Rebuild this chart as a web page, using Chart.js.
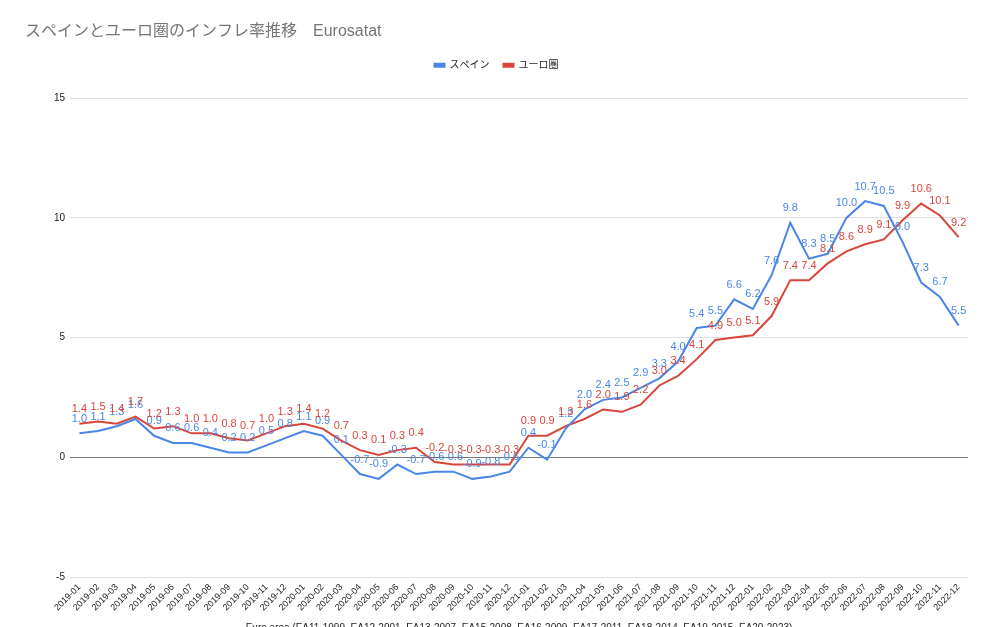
<!DOCTYPE html>
<html>
<head>
<meta charset="utf-8">
<script src="https://cdn.jsdelivr.net/npm/chart.js@4"></script>
<style>
  html, body { margin: 0; padding: 0; background: #fff; overflow: hidden; }
  #wrap { position: relative; width: 991px; height: 638px; }
</style>
</head>
<body>
<div id="wrap"><canvas id="grafico"></canvas></div>
<script>
// Datos
const meses = [
  '2019-01','2019-02','2019-03','2019-04','2019-05','2019-06','2019-07','2019-08','2019-09','2019-10','2019-11','2019-12',
  '2020-01','2020-02','2020-03','2020-04','2020-05','2020-06','2020-07','2020-08','2020-09','2020-10','2020-11','2020-12',
  '2021-01','2021-02','2021-03','2021-04','2021-05','2021-06','2021-07','2021-08','2021-09','2021-10','2021-11','2021-12',
  '2022-01','2022-02','2022-03','2022-04','2022-05','2022-06','2022-07','2022-08','2022-09','2022-10','2022-11','2022-12'
];
const espana = [
  1.0, 1.1, 1.3, 1.6, 0.9, 0.6, 0.6, 0.4, 0.2, 0.2, 0.5, 0.8,
  1.1, 0.9, 0.1, -0.7, -0.9, -0.3, -0.7, -0.6, -0.6, -0.9, -0.8, -0.6,
  0.4, -0.1, 1.2, 2.0, 2.4, 2.5, 2.9, 3.3, 4.0, 5.4, 5.5, 6.6,
  6.2, 7.6, 9.8, 8.3, 8.5, 10.0, 10.7, 10.5, 9.0, 7.3, 6.7, 5.5
];
const eurozona = [
  1.4, 1.5, 1.4, 1.7, 1.2, 1.3, 1.0, 1.0, 0.8, 0.7, 1.0, 1.3,
  1.4, 1.2, 0.7, 0.3, 0.1, 0.3, 0.4, -0.2, -0.3, -0.3, -0.3, -0.3,
  0.9, 0.9, 1.3, 1.6, 2.0, 1.9, 2.2, 3.0, 3.4, 4.1, 4.9, 5.0,
  5.1, 5.9, 7.4, 7.4, 8.1, 8.6, 8.9, 9.1, 9.9, 10.6, 10.1, 9.2
];
const ticksY = [-5, 0, 5, 10, 15];

const AZUL = '#4a86e8';
const ROJO = '#d9453a';
const FUENTE = 'Arial, "Liberation Sans", "Noto Sans CJK JP", sans-serif';

// Etiquetas de valores sobre cada punto
const etiquetasDeDatos = {
  id: 'etiquetasDeDatos',
  afterDatasetsDraw(chart) {
    const ctx = chart.ctx;
    ctx.save();
    ctx.font = '11px ' + FUENTE;
    ctx.textAlign = 'center';
    ctx.textBaseline = 'bottom';
    chart.data.datasets.forEach((ds, i) => {
      const meta = chart.getDatasetMeta(i);
      ctx.fillStyle = ds.borderColor;
      meta.data.forEach((pt, j) => {
        ctx.fillText(ds.data[j].toFixed(1), pt.x, pt.y - 9);
      });
    });
    ctx.restore();
  }
};

// Más espacio entre la leyenda y el área del gráfico
const margenLeyenda = {
  id: 'margenLeyenda',
  beforeInit(chart) {
    const fitOriginal = chart.legend.fit;
    chart.legend.fit = function () {
      fitOriginal.bind(chart.legend)();
      this.height += 18;
    };
  }
};

new Chart(document.getElementById('grafico'), {
  type: 'line',
  data: {
    labels: meses,
    datasets: [
      { label: 'スペイン', data: espana, borderColor: AZUL, backgroundColor: AZUL, borderWidth: 2, pointRadius: 0, tension: 0 },
      { label: 'ユーロ圏', data: eurozona, borderColor: ROJO, backgroundColor: ROJO, borderWidth: 2, pointRadius: 0, tension: 0 }
    ]
  },
  options: {
    responsive: true,
    maintainAspectRatio: false,
    animation: false,
    layout: { padding: { left: 25, right: 23, top: 16, bottom: 0 } },
    plugins: {
      title: {
        display: true,
        text: 'スペインとユーロ圏のインフレ率推移　Eurosatat',
        align: 'start',
        color: '#757575',
        font: { family: FUENTE, size: 16, weight: 'normal' },
        padding: { top: 6, bottom: 5 }
      },
      legend: {
        position: 'top',
        align: 'center',
        labels: {
          color: '#222',
          font: { family: FUENTE, size: 10 },
          boxWidth: 10,
          boxHeight: 3,
          padding: 14
        }
      },
      tooltip: { enabled: false }
    },
    scales: {
      x: {
        offset: true,
        grid: { display: false },
        border: { display: false },
        ticks: {
          color: '#222',
          font: { family: FUENTE, size: 9 },
          maxRotation: 45,
          minRotation: 45,
          autoSkip: false,
          padding: -3
        },
        title: {
          display: true,
          text: 'Euro area (EA11-1999, EA12-2001, EA13-2007, EA15-2008, EA16-2009, EA17-2011, EA18-2014, EA19-2015, EA20-2023)',
          color: '#222',
          font: { family: FUENTE, size: 10 },
          padding: { top: 12 }
        }
      },
      y: {
        min: ticksY[0],
        max: ticksY[ticksY.length - 1],
        afterBuildTicks: escala => { escala.ticks = ticksY.map(v => ({ value: v })); },
        afterFit: escala => { escala.width = 45; },
        grid: {
          color: ctx => ctx.tick && ctx.tick.value === 0 ? '#777' : '#e0e0e0',
          lineWidth: 1,
          drawTicks: false
        },
        border: { display: false },
        ticks: {
          color: '#222',
          font: { family: FUENTE, size: 10 },
          padding: 5
        }
      }
    }
  },
  plugins: [etiquetasDeDatos, margenLeyenda]
});
</script>
</body>
</html>
